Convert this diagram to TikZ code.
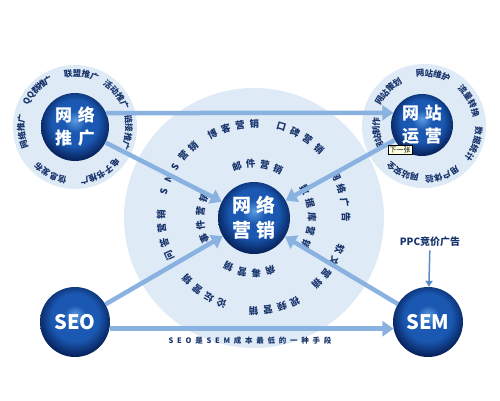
\documentclass[tikz,border=0pt]{standalone}
\usepackage{fontspec}
\setmainfont{Noto Sans CJK SC}
\newfontfamily\spacedfont[LetterSpace=50]{Noto Sans CJK SC}
\usetikzlibrary{arrows.meta, calc}

\definecolor{halo}{RGB}{222,234,246}
\definecolor{flowblue}{RGB}{138,178,224}
\definecolor{steel}{RGB}{88,138,200}
\definecolor{ink}{RGB}{24,52,108}
\definecolor{sphhi}{RGB}{92,156,226}
\definecolor{sphmid}{RGB}{26,88,178}
\definecolor{sphdark}{RGB}{6,32,88}
\pgfdeclareradialshading{sphere}{\pgfpoint{0bp}{5bp}}{color(0bp)=(sphhi); color(8bp)=(sphmid); color(17bp)=(sphmid); color(27bp)=(sphdark); color(50bp)=(sphdark)}

\tikzset{
  ball/.style={circle, shading=sphere, text=white, align=center, inner sep=0pt},
  ringtxt/.style={text=ink, font=\bfseries\fontsize{9.5}{9.5}\selectfont, inner sep=0pt},
  smalltxt/.style={text=ink, font=\bfseries\fontsize{8.5}{8.5}\selectfont, inner sep=0pt},
  flow/.style={draw=flowblue, line width=4.5pt, -{Triangle[length=11pt,width=15pt]}},
  tipbox/.style={fill={rgb,255:red,255;green,255;blue,225}, draw=black, line width=0.4pt,
    font=\fontsize{7}{7}\selectfont, inner sep=1.2pt},
}

% word set round a centre: [style] centre, radius, mid angle, step, count, characters
\newcommand{\ringword}[7][ringtxt]{%
  \foreach \ch [count=\k] in {#7}
    \node[#1, rotate={#4+((#6+1)/2-\k)*#5-90}] at ($(#2)+({#4+((#6+1)/2-\k)*#5}:#3)$) {\ch};
}

\begin{document}
\begin{tikzpicture}[x=1pt, y=1pt]
  \useasboundingbox (0,0) rectangle (500,400);
  \coordinate (pmk) at (254,182);
  \coordinate (ptg) at (75,273);
  \coordinate (pop) at (422,275);
  \coordinate (ringop) at (424,274);

  % halos
  \fill[halo] (pmk) circle (130);
  \fill[halo] (ptg) circle (62);
  \fill[halo] (ringop) circle (62);

  % main nodes
  \node[ball, minimum size=72pt, font=\bfseries\fontsize{19}{25}\selectfont] (mk) at (pmk) {网\hspace{6pt}络\\营\hspace{6pt}销};
  \node[ball, minimum size=68pt, font=\bfseries\fontsize{17}{23}\selectfont] (tg) at (ptg) {网\hspace{6pt}络\\推\hspace{6pt}广};
  \node[ball, minimum size=62pt, font=\bfseries\fontsize{17}{23}\selectfont] (op) at (pop) {网\hspace{6pt}站\\运\hspace{6pt}营};
  \node[ball, minimum size=70pt, font=\bfseries\fontsize{20}{20}\selectfont] (seo) at (75,78) {SEO};
  \node[ball, minimum size=70pt, font=\bfseries\fontsize{20}{20}\selectfont] (sem) at (428,78) {SEM};
  \node[text=ink, font=\bfseries\fontsize{10}{10}\selectfont] (ppc) at (430,158) {PPC竞价广告};
  \node[text=ink, font=\bfseries\fontsize{7.5}{7.5}\selectfont] (note) at (250,59) {\spacedfont SEO是SEM成本最低的一种手段};

  % words round 网络推广
  \ringword[smalltxt]{ptg}{54}{83}{9.5}{4}{联,盟,推,广}
  \ringword[smalltxt]{ptg}{54}{38}{9.5}{4}{活,动,推,广}
  \ringword[smalltxt]{ptg}{54}{-6}{9.5}{4}{链,接,推,广}
  \ringword[smalltxt]{ptg}{54}{-61}{9.5}{5}{电,子,书,推,广}
  \ringword[smalltxt]{ptg}{54}{-118}{9.5}{4}{信,息,发,布}
  \ringword[smalltxt]{ptg}{54}{185}{9.5}{4}{网,络,推,广}
  \ringword[smalltxt]{ptg}{54}{136}{8}{5}{Q,Q,群,推,广}

  % words round 网站运营
  \ringword[smalltxt]{ringop}{51}{136}{9.5}{4}{网,站,策,划}
  \ringword[smalltxt]{ringop}{53}{80}{9.5}{4}{网,站,维,护}
  \ringword[smalltxt]{ringop}{53}{29}{9.5}{4}{流,量,转,换}
  \ringword[smalltxt]{ringop}{55}{-20}{9.5}{4}{数,据,统,计}
  \ringword[smalltxt]{ringop}{54}{-70}{9.5}{4}{用,户,体,验}
  \ringword[smalltxt]{ringop}{52}{-115}{9.5}{4}{网,站,安,全}
  \ringword[smalltxt]{ringop}{48}{190}{10}{4}{网,站,制,作}

  % inner ring round 网络营销
  \ringword{pmk}{54}{86}{15}{4}{邮,件,营,销}
  \ringword{pmk}{58}{1}{14}{5}{数,据,库,营,销}
  \ringword{pmk}{55}{-95}{15}{4}{病,毒,营,销}
  \ringword{pmk}{54}{180}{15}{4}{事,件,营,销}

  % outer ring round 网络营销
  \ringword{pmk}{94}{103}{8.8}{4}{博,客,营,销}
  \ringword{pmk}{95}{60}{8.8}{4}{口,碑,营,销}
  \ringword{pmk}{92}{14}{8.8}{4}{网,络,广,告}
  \ringword{pmk}{91}{-33}{8.8}{4}{软,文,营,销}
  \ringword{pmk}{93}{-77}{8.8}{4}{视,频,营,销}
  \ringword{pmk}{91}{-124}{8.8}{4}{论,坛,营,销}
  \ringword{pmk}{93}{191}{8.8}{4}{问,答,营,销}
  \ringword{pmk}{94}{147}{8.3}{5}{S,N,S,营,销}

  % connectors
  \draw[flow] (tg.24) -- (op.157);
  \draw[flow] (tg) -- (mk);
  \draw[flow] (op) -- (mk);
  \draw[flow] (seo) -- (mk);
  \draw[flow] (sem) -- (mk);
  \draw[flow] (seo.-11) -- (sem.191);
  \draw[draw=steel, line width=1.5pt, -{Triangle[length=6pt,width=7pt]}] (ppc) -- (sem);

  \node[tipbox] (tip) at (400,250) {下一张};
\end{tikzpicture}
\end{document}
